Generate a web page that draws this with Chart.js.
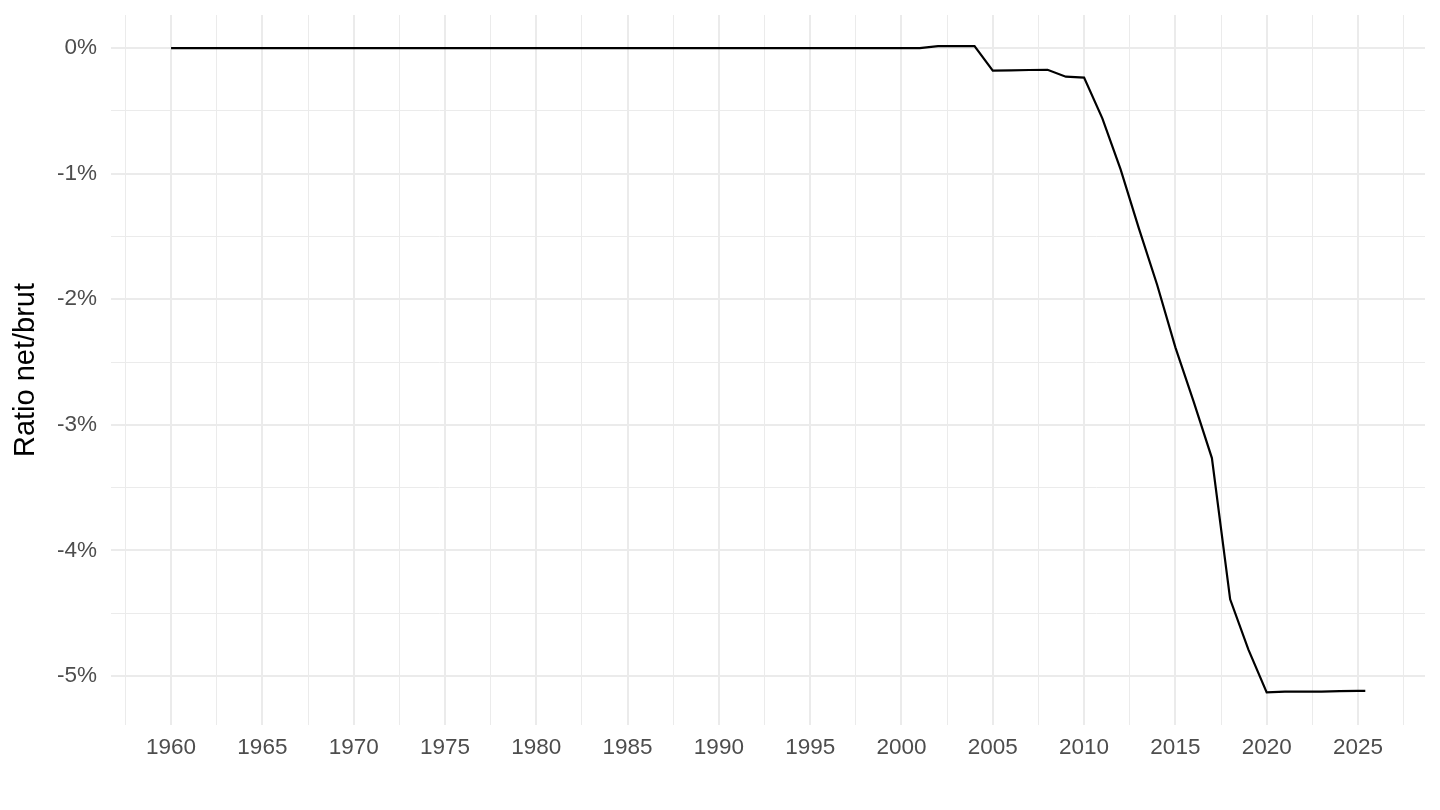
<!DOCTYPE html>
<html>
<head>
<meta charset="utf-8">
<script src="https://cdn.jsdelivr.net/npm/chart.js@4.4.1/dist/chart.umd.min.js"></script>
<style>
  html, body { margin: 0; padding: 0; background: #fff; }
  #wrap { width: 1440px; height: 810px; }
</style>
</head>
<body>
<div id="wrap"><canvas id="ratioChart" width="1440" height="810"></canvas></div>
<script>
// annual points, last one is mid-2025
const years = [
  1960, 1961, 1962, 1963, 1964, 1965, 1966, 1967, 1968, 1969,
  1970, 1971, 1972, 1973, 1974, 1975, 1976, 1977, 1978, 1979,
  1980, 1981, 1982, 1983, 1984, 1985, 1986, 1987, 1988, 1989,
  1990, 1991, 1992, 1993, 1994, 1995, 1996, 1997, 1998, 1999,
  2000, 2001, 2002, 2003, 2004, 2005, 2006, 2007, 2008, 2009,
  2010, 2011, 2012, 2013, 2014, 2015, 2016, 2017, 2018, 2019,
  2020, 2021, 2022, 2023, 2024, 2025, 2025.4
];

// ratio net/brut, in %
const ratio = [
  0, 0, 0, 0, 0, 0, 0, 0, 0, 0,
  0, 0, 0, 0, 0, 0, 0, 0, 0, 0,
  0, 0, 0, 0, 0, 0, 0, 0, 0, 0,
  0, 0, 0, 0, 0, 0, 0, 0, 0, 0,
  0, 0, 0.015, 0.015, 0.015, -0.18, -0.178, -0.175, -0.173, -0.228,
  -0.236, -0.56, -0.966, -1.436, -1.885, -2.383, -2.816, -3.265, -4.389, -4.79,
  -5.13, -5.125, -5.125, -5.124, -5.12, -5.118, -5.118
];

const xTicks = [
  1957.5, 1960, 1962.5, 1965, 1967.5, 1970, 1972.5, 1975, 1977.5, 1980,
  1982.5, 1985, 1987.5, 1990, 1992.5, 1995, 1997.5, 2000, 2002.5, 2005,
  2007.5, 2010, 2012.5, 2015, 2017.5, 2020, 2022.5, 2025, 2027.5
];
const yTicks = [-5, -4.5, -4, -3.5, -3, -2.5, -2, -1.5, -1, -0.5, 0];

const fontFamily = '"Liberation Sans", Arial, Helvetica, sans-serif';
const gridColor = '#ebebeb';

const ctx = document.getElementById('ratioChart').getContext('2d');
new Chart(ctx, {
  type: 'line',
  data: {
    datasets: [{
      label: 'Ratio net/brut',
      data: years.map((y, i) => ({ x: y, y: ratio[i] })),
      borderColor: '#000',
      borderWidth: 2.2,
      pointRadius: 0,
      fill: false,
      tension: 0
    }]
  },
  options: {
    responsive: false,
    animation: false,
    devicePixelRatio: 1,
    layout: { padding: { left: 0, right: 15, top: 15, bottom: 0 } },
    plugins: {
      legend: { display: false },
      tooltip: { enabled: false }
    },
    scales: {
      x: {
        type: 'linear',
        min: 1956.71,
        max: 2028.67,
        afterBuildTicks: (axis) => { axis.ticks = xTicks.map(v => ({ value: v })); },
        afterFit: (axis) => {
          axis.height = 85;
          axis.paddingLeft = 0;
          axis.paddingRight = 0;
        },
        border: { display: false },
        grid: {
          color: gridColor,
          drawTicks: false,
          lineWidth: (c) => (c.tick && c.tick.value % 5 === 0 ? 2 : 1)
        },
        ticks: {
          autoSkip: false,
          maxRotation: 0,
          padding: 9,
          color: '#4d4d4d',
          font: { family: fontFamily, size: 22.5 },
          callback: (v) => (v % 5 === 0 ? String(v) : '')
        }
      },
      y: {
        min: -5.39,
        max: 0.263,
        afterBuildTicks: (axis) => { axis.ticks = yTicks.map(v => ({ value: v })); },
        afterFit: (axis) => {
          axis.width = 111;
          axis.paddingTop = 0;
          axis.paddingBottom = 0;
        },
        border: { display: false },
        grid: {
          color: gridColor,
          drawTicks: false,
          lineWidth: (c) => (c.tick && Number.isInteger(c.tick.value) ? 2 : 1)
        },
        ticks: {
          padding: 14,
          color: '#4d4d4d',
          font: { family: fontFamily, size: 22.5 },
          callback: (v) => (Number.isInteger(v) ? v + '%' : '')
        },
        title: {
          display: true,
          text: 'Ratio net/brut',
          color: '#000',
          font: { family: fontFamily, size: 29 },
          padding: { top: 9, bottom: 0 }
        }
      }
    }
  }
});
</script>
</body>
</html>
